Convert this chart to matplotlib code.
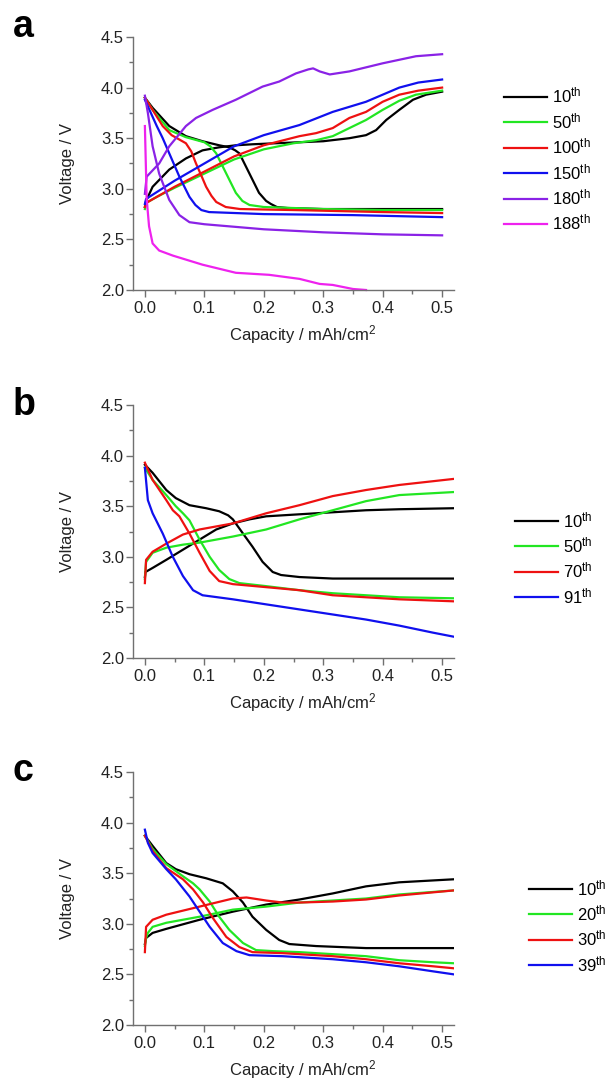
"""Charge/discharge voltage profiles, three stacked panels (a, b, c)."""

import matplotlib

matplotlib.use("Agg")
import matplotlib.pyplot as plt  # noqa: E402
from matplotlib.ticker import MultipleLocator  # noqa: E402

plt.rcParams["font.family"] = ["Liberation Sans", "DejaVu Sans"]
plt.rcParams["mathtext.default"] = "regular"

# ---- panel a -------------------------------------------------------------
A_LABELS = ["10th", "50th", "100th", "150th", "180th", "188th"]

a10_dis_x = [0, 0.013, 0.041, 0.069, 0.097, 0.125, 0.142, 0.152, 0.159, 0.17, 0.181, 0.192, 0.204, 0.212, 0.222, 0.24, 0.3, 0.4, 0.5]
a10_dis_v = [3.90, 3.80, 3.62, 3.52, 3.47, 3.43, 3.41, 3.38, 3.35, 3.22, 3.09, 2.96, 2.88, 2.85, 2.82, 2.81, 2.80, 2.80, 2.80]
a10_chg_x = [0, 0.002, 0.013, 0.041, 0.069, 0.097, 0.125, 0.153, 0.181, 0.22, 0.26, 0.30, 0.344, 0.372, 0.389, 0.406, 0.428, 0.451, 0.473, 0.5]
a10_chg_v = [2.82, 2.88, 3.02, 3.19, 3.30, 3.38, 3.41, 3.43, 3.44, 3.45, 3.46, 3.47, 3.50, 3.53, 3.58, 3.68, 3.78, 3.88, 3.93, 3.96]

a50_dis_x = [0, 0.013, 0.041, 0.069, 0.1, 0.11, 0.12, 0.131, 0.142, 0.153, 0.164, 0.176, 0.2, 0.3, 0.4, 0.5]
a50_dis_v = [3.90, 3.78, 3.58, 3.51, 3.46, 3.42, 3.35, 3.22, 3.09, 2.96, 2.88, 2.84, 2.82, 2.80, 2.79, 2.79]
a50_chg_x = [0, 0.002, 0.02, 0.05, 0.1, 0.15, 0.2, 0.25, 0.288, 0.316, 0.344, 0.372, 0.4, 0.428, 0.456, 0.5]
a50_chg_v = [2.80, 2.86, 2.92, 3.01, 3.15, 3.29, 3.39, 3.45, 3.48, 3.52, 3.60, 3.68, 3.78, 3.87, 3.93, 3.97]

a100_dis_x = [0, 0.013, 0.03, 0.045, 0.06, 0.069, 0.078, 0.086, 0.095, 0.103, 0.112, 0.12, 0.136, 0.16, 0.25, 0.4, 0.5]
a100_dis_v = [3.90, 3.78, 3.62, 3.53, 3.48, 3.45, 3.37, 3.25, 3.13, 3.02, 2.93, 2.87, 2.82, 2.80, 2.79, 2.77, 2.76]
a100_chg_x = [0, 0.002, 0.05, 0.1, 0.15, 0.2, 0.26, 0.288, 0.316, 0.344, 0.372, 0.4, 0.428, 0.46, 0.5]
a100_chg_v = [2.82, 2.86, 3.02, 3.17, 3.32, 3.43, 3.52, 3.55, 3.60, 3.70, 3.76, 3.86, 3.93, 3.97, 4.00]

a150_dis_x = [0, 0.01, 0.02, 0.03, 0.041, 0.058, 0.075, 0.085, 0.095, 0.108, 0.2, 0.35, 0.5]
a150_dis_v = [3.88, 3.75, 3.62, 3.50, 3.35, 3.12, 2.92, 2.84, 2.79, 2.77, 2.75, 2.74, 2.72]
a150_chg_x = [0, 0.002, 0.05, 0.1, 0.15, 0.2, 0.26, 0.316, 0.372, 0.428, 0.46, 0.5]
a150_chg_v = [2.85, 2.90, 3.08, 3.25, 3.42, 3.53, 3.63, 3.76, 3.86, 4.00, 4.05, 4.08]

a180_dis_x = [0, 0.005, 0.013, 0.024, 0.041, 0.058, 0.075, 0.1, 0.2, 0.3, 0.4, 0.5]
a180_dis_v = [3.92, 3.75, 3.42, 3.15, 2.89, 2.74, 2.67, 2.65, 2.60, 2.57, 2.55, 2.54]
a180_chg_x = [0, 0.003, 0.024, 0.041, 0.069, 0.086, 0.114, 0.153, 0.198, 0.226, 0.254, 0.275, 0.283, 0.294, 0.311, 0.344, 0.4, 0.456, 0.5]
a180_chg_v = [2.95, 3.12, 3.25, 3.42, 3.62, 3.70, 3.78, 3.88, 4.01, 4.06, 4.14, 4.18, 4.19, 4.16, 4.13, 4.16, 4.24, 4.31, 4.33]

a188_dis_x = [0, 0.003, 0.007, 0.013, 0.024, 0.047, 0.097, 0.153, 0.209, 0.26, 0.294, 0.316, 0.35, 0.372]
a188_dis_v = [3.62, 2.90, 2.63, 2.46, 2.39, 2.34, 2.25, 2.17, 2.15, 2.11, 2.06, 2.05, 2.01, 2.00]

# ---- panel b -------------------------------------------------------------
B_LABELS = ["10th", "50th", "70th", "91th"]

b10_dis_x = [0, 0.013, 0.036, 0.052, 0.075, 0.103, 0.125, 0.14, 0.148, 0.165, 0.181, 0.198, 0.215, 0.229, 0.26, 0.316, 0.52]
b10_dis_v = [3.91, 3.83, 3.66, 3.58, 3.51, 3.48, 3.45, 3.41, 3.37, 3.23, 3.10, 2.95, 2.85, 2.82, 2.80, 2.785, 2.785]
b10_chg_x = [0, 0.001, 0.013, 0.036, 0.064, 0.092, 0.12, 0.148, 0.176, 0.204, 0.26, 0.316, 0.372, 0.428, 0.52]
b10_chg_v = [2.80, 2.85, 2.89, 2.97, 3.07, 3.17, 3.27, 3.33, 3.37, 3.40, 3.42, 3.44, 3.46, 3.47, 3.48]

b50_dis_x = [0, 0.013, 0.036, 0.052, 0.064, 0.075, 0.092, 0.109, 0.125, 0.142, 0.159, 0.204, 0.26, 0.316, 0.372, 0.428, 0.52]
b50_dis_v = [3.88, 3.76, 3.61, 3.50, 3.43, 3.36, 3.17, 3.00, 2.87, 2.78, 2.74, 2.71, 2.67, 2.64, 2.62, 2.60, 2.59]
b50_chg_x = [0, 0.002, 0.013, 0.036, 0.064, 0.092, 0.148, 0.204, 0.26, 0.316, 0.372, 0.428, 0.52]
b50_chg_v = [2.78, 2.95, 3.04, 3.09, 3.12, 3.14, 3.20, 3.27, 3.37, 3.46, 3.55, 3.61, 3.64]

b70_dis_x = [0, 0.013, 0.036, 0.047, 0.058, 0.075, 0.092, 0.109, 0.125, 0.148, 0.204, 0.26, 0.316, 0.372, 0.428, 0.52]
b70_dis_v = [3.93, 3.76, 3.56, 3.46, 3.40, 3.23, 3.04, 2.86, 2.76, 2.73, 2.70, 2.67, 2.62, 2.60, 2.58, 2.56]
b70_chg_x = [0, 0.002, 0.013, 0.036, 0.064, 0.092, 0.12, 0.148, 0.176, 0.204, 0.26, 0.316, 0.372, 0.428, 0.52]
b70_chg_v = [2.74, 2.97, 3.05, 3.13, 3.22, 3.27, 3.30, 3.33, 3.38, 3.43, 3.51, 3.60, 3.66, 3.71, 3.77]

b91_dis_x = [0, 0.005, 0.013, 0.03, 0.047, 0.064, 0.081, 0.097, 0.148, 0.204, 0.26, 0.316, 0.372, 0.428, 0.485, 0.52]
b91_dis_v = [3.88, 3.56, 3.43, 3.23, 3.00, 2.81, 2.67, 2.62, 2.58, 2.53, 2.48, 2.43, 2.38, 2.32, 2.25, 2.21]

# ---- panel c -------------------------------------------------------------
C_LABELS = ["10th", "20th", "30th", "39th"]

c10_dis_x = [0, 0.013, 0.036, 0.052, 0.075, 0.103, 0.131, 0.148, 0.165, 0.181, 0.204, 0.226, 0.243, 0.288, 0.372, 0.52]
c10_dis_v = [3.87, 3.77, 3.60, 3.54, 3.49, 3.45, 3.40, 3.32, 3.21, 3.07, 2.94, 2.84, 2.80, 2.78, 2.76, 2.76]
c10_chg_x = [0, 0.002, 0.013, 0.036, 0.092, 0.148, 0.204, 0.26, 0.316, 0.372, 0.428, 0.52]
c10_chg_v = [2.80, 2.86, 2.91, 2.95, 3.04, 3.12, 3.19, 3.24, 3.30, 3.37, 3.41, 3.44]

c20_dis_x = [0, 0.013, 0.036, 0.064, 0.081, 0.092, 0.109, 0.125, 0.142, 0.165, 0.187, 0.215, 0.26, 0.316, 0.372, 0.428, 0.485, 0.52]
c20_dis_v = [3.87, 3.74, 3.59, 3.47, 3.40, 3.34, 3.22, 3.07, 2.94, 2.81, 2.74, 2.73, 2.72, 2.70, 2.68, 2.64, 2.62, 2.61]
c20_chg_x = [0, 0.002, 0.005, 0.013, 0.036, 0.092, 0.148, 0.204, 0.26, 0.316, 0.372, 0.428, 0.52]
c20_chg_v = [2.78, 2.86, 2.91, 2.97, 3.01, 3.07, 3.14, 3.17, 3.21, 3.23, 3.25, 3.29, 3.33]

c30_dis_x = [0, 0.013, 0.036, 0.064, 0.081, 0.098, 0.114, 0.137, 0.159, 0.181, 0.232, 0.316, 0.372, 0.428, 0.485, 0.52]
c30_dis_v = [3.87, 3.72, 3.55, 3.44, 3.34, 3.21, 3.06, 2.87, 2.77, 2.72, 2.71, 2.68, 2.65, 2.61, 2.58, 2.56]
c30_chg_x = [0, 0.002, 0.013, 0.036, 0.092, 0.148, 0.171, 0.204, 0.232, 0.26, 0.316, 0.372, 0.428, 0.52]
c30_chg_v = [2.72, 2.97, 3.04, 3.09, 3.17, 3.25, 3.26, 3.23, 3.21, 3.21, 3.22, 3.24, 3.28, 3.33]

c39_dis_x = [0, 0.005, 0.013, 0.036, 0.052, 0.075, 0.092, 0.109, 0.131, 0.154, 0.176, 0.232, 0.316, 0.372, 0.428, 0.485, 0.52]
c39_dis_v = [3.93, 3.80, 3.70, 3.54, 3.44, 3.27, 3.12, 2.97, 2.81, 2.73, 2.69, 2.68, 2.65, 2.62, 2.58, 2.53, 2.50]

BLACK, GREEN, RED, BLUE = "#000000", "#22e622", "#ee1111", "#1010ee"
PURPLE, MAGENTA = "#8a22e6", "#ee22ee"

W, H = 610, 1084
FS = 12


def _sup(label: str) -> str:
    """'10th' -> 10 with a superscript th."""
    return f"{label[:-2]}$^{{{label[-2:]}}}$"


def style_axes(ax, xmax):
    ax.set_xlim(-0.02, xmax)
    ax.set_ylim(2.0, 4.5)
    ax.xaxis.set_major_locator(MultipleLocator(0.1))
    ax.xaxis.set_minor_locator(MultipleLocator(0.05))
    ax.yaxis.set_major_locator(MultipleLocator(0.5))
    ax.yaxis.set_minor_locator(MultipleLocator(0.25))
    ax.xaxis.set_major_formatter(lambda v, p: f"{v:.1f}")
    ax.yaxis.set_major_formatter(lambda v, p: f"{v:.1f}")
    for side in ("top", "right"):
        ax.spines[side].set_visible(False)
    for side in ("left", "bottom"):
        ax.spines[side].set_color("#707070")
        ax.spines[side].set_linewidth(1.0)
    ax.tick_params(which="both", direction="out", color="#707070", width=1.0,
                   labelsize=FS, labelcolor="#222222")
    ax.tick_params(which="major", length=5)
    ax.tick_params(which="minor", length=3)
    ax.tick_params(axis="y", pad=1.5)
    ax.tick_params(axis="x", pad=3)
    ax.set_xlabel("Capacity / mAh/cm$^2$", fontsize=FS, color="#222222")
    ax.set_ylabel("Voltage / V", fontsize=FS, color="#222222")
    ax.xaxis.set_label_coords(0.53, -0.13)
    ax.yaxis.set_label_coords(-0.18, 0.5)


def add_legend(ax, handles, labels, x_px, top_px):
    ax.legend(handles, [_sup(s) for s in labels], loc="upper left",
              bbox_to_anchor=(x_px / W, 1 - top_px / H),
              bbox_transform=fig.transFigure, frameon=False, fontsize=FS,
              handlelength=2.6, handletextpad=0.3, labelspacing=0.33,
              borderpad=0, borderaxespad=0)


def panel_letter(letter, baseline_px):
    fig.text(13 / W, 1 - baseline_px / H, letter, fontsize=27, fontweight="bold",
             family=["Liberation Sans Narrow", "Liberation Sans"], va="baseline")


fig = plt.figure(figsize=(W / 100, H / 100), dpi=100)
LW = 1.6

# panel a
ax = fig.add_axes([133 / W, 1 - 290 / H, 321 / W, 253 / H])
h = []
for (dx, dv, cx, cv), col in zip(
    [(a10_dis_x, a10_dis_v, a10_chg_x, a10_chg_v),
     (a50_dis_x, a50_dis_v, a50_chg_x, a50_chg_v),
     (a100_dis_x, a100_dis_v, a100_chg_x, a100_chg_v),
     (a150_dis_x, a150_dis_v, a150_chg_x, a150_chg_v),
     (a180_dis_x, a180_dis_v, a180_chg_x, a180_chg_v)],
    [BLACK, GREEN, RED, BLUE, PURPLE],
):
    h.append(ax.plot(dx, dv, color=col, lw=LW)[0])
    ax.plot(cx, cv, color=col, lw=LW)
h.append(ax.plot(a188_dis_x, a188_dis_v, color=MAGENTA, lw=LW, clip_on=False)[0])
style_axes(ax, 0.52)
add_legend(ax, h, A_LABELS, 504, 86)
panel_letter("a", 37)

# panel b
ax = fig.add_axes([133 / W, 1 - 658 / H, 321 / W, 253 / H])
h = []
for (dx, dv, cx, cv), col in zip(
    [(b10_dis_x, b10_dis_v, b10_chg_x, b10_chg_v),
     (b50_dis_x, b50_dis_v, b50_chg_x, b50_chg_v),
     (b70_dis_x, b70_dis_v, b70_chg_x, b70_chg_v)],
    [BLACK, GREEN, RED],
):
    h.append(ax.plot(dx, dv, color=col, lw=LW)[0])
    ax.plot(cx, cv, color=col, lw=LW)
h.append(ax.plot(b91_dis_x, b91_dis_v, color=BLUE, lw=LW)[0])
style_axes(ax, 0.52)
add_legend(ax, h, B_LABELS, 515, 510)
panel_letter("b", 415)

# panel c
ax = fig.add_axes([133 / W, 1 - 1025 / H, 321 / W, 253 / H])
h = []
for (dx, dv, cx, cv), col in zip(
    [(c10_dis_x, c10_dis_v, c10_chg_x, c10_chg_v),
     (c20_dis_x, c20_dis_v, c20_chg_x, c20_chg_v),
     (c30_dis_x, c30_dis_v, c30_chg_x, c30_chg_v)],
    [BLACK, GREEN, RED],
):
    h.append(ax.plot(dx, dv, color=col, lw=LW)[0])
    ax.plot(cx, cv, color=col, lw=LW)
h.append(ax.plot(c39_dis_x, c39_dis_v, color=BLUE, lw=LW)[0])
style_axes(ax, 0.52)
add_legend(ax, h, C_LABELS, 529, 878)
panel_letter("c", 781)

fig.savefig("out.png", dpi=100)
plt.close(fig)
